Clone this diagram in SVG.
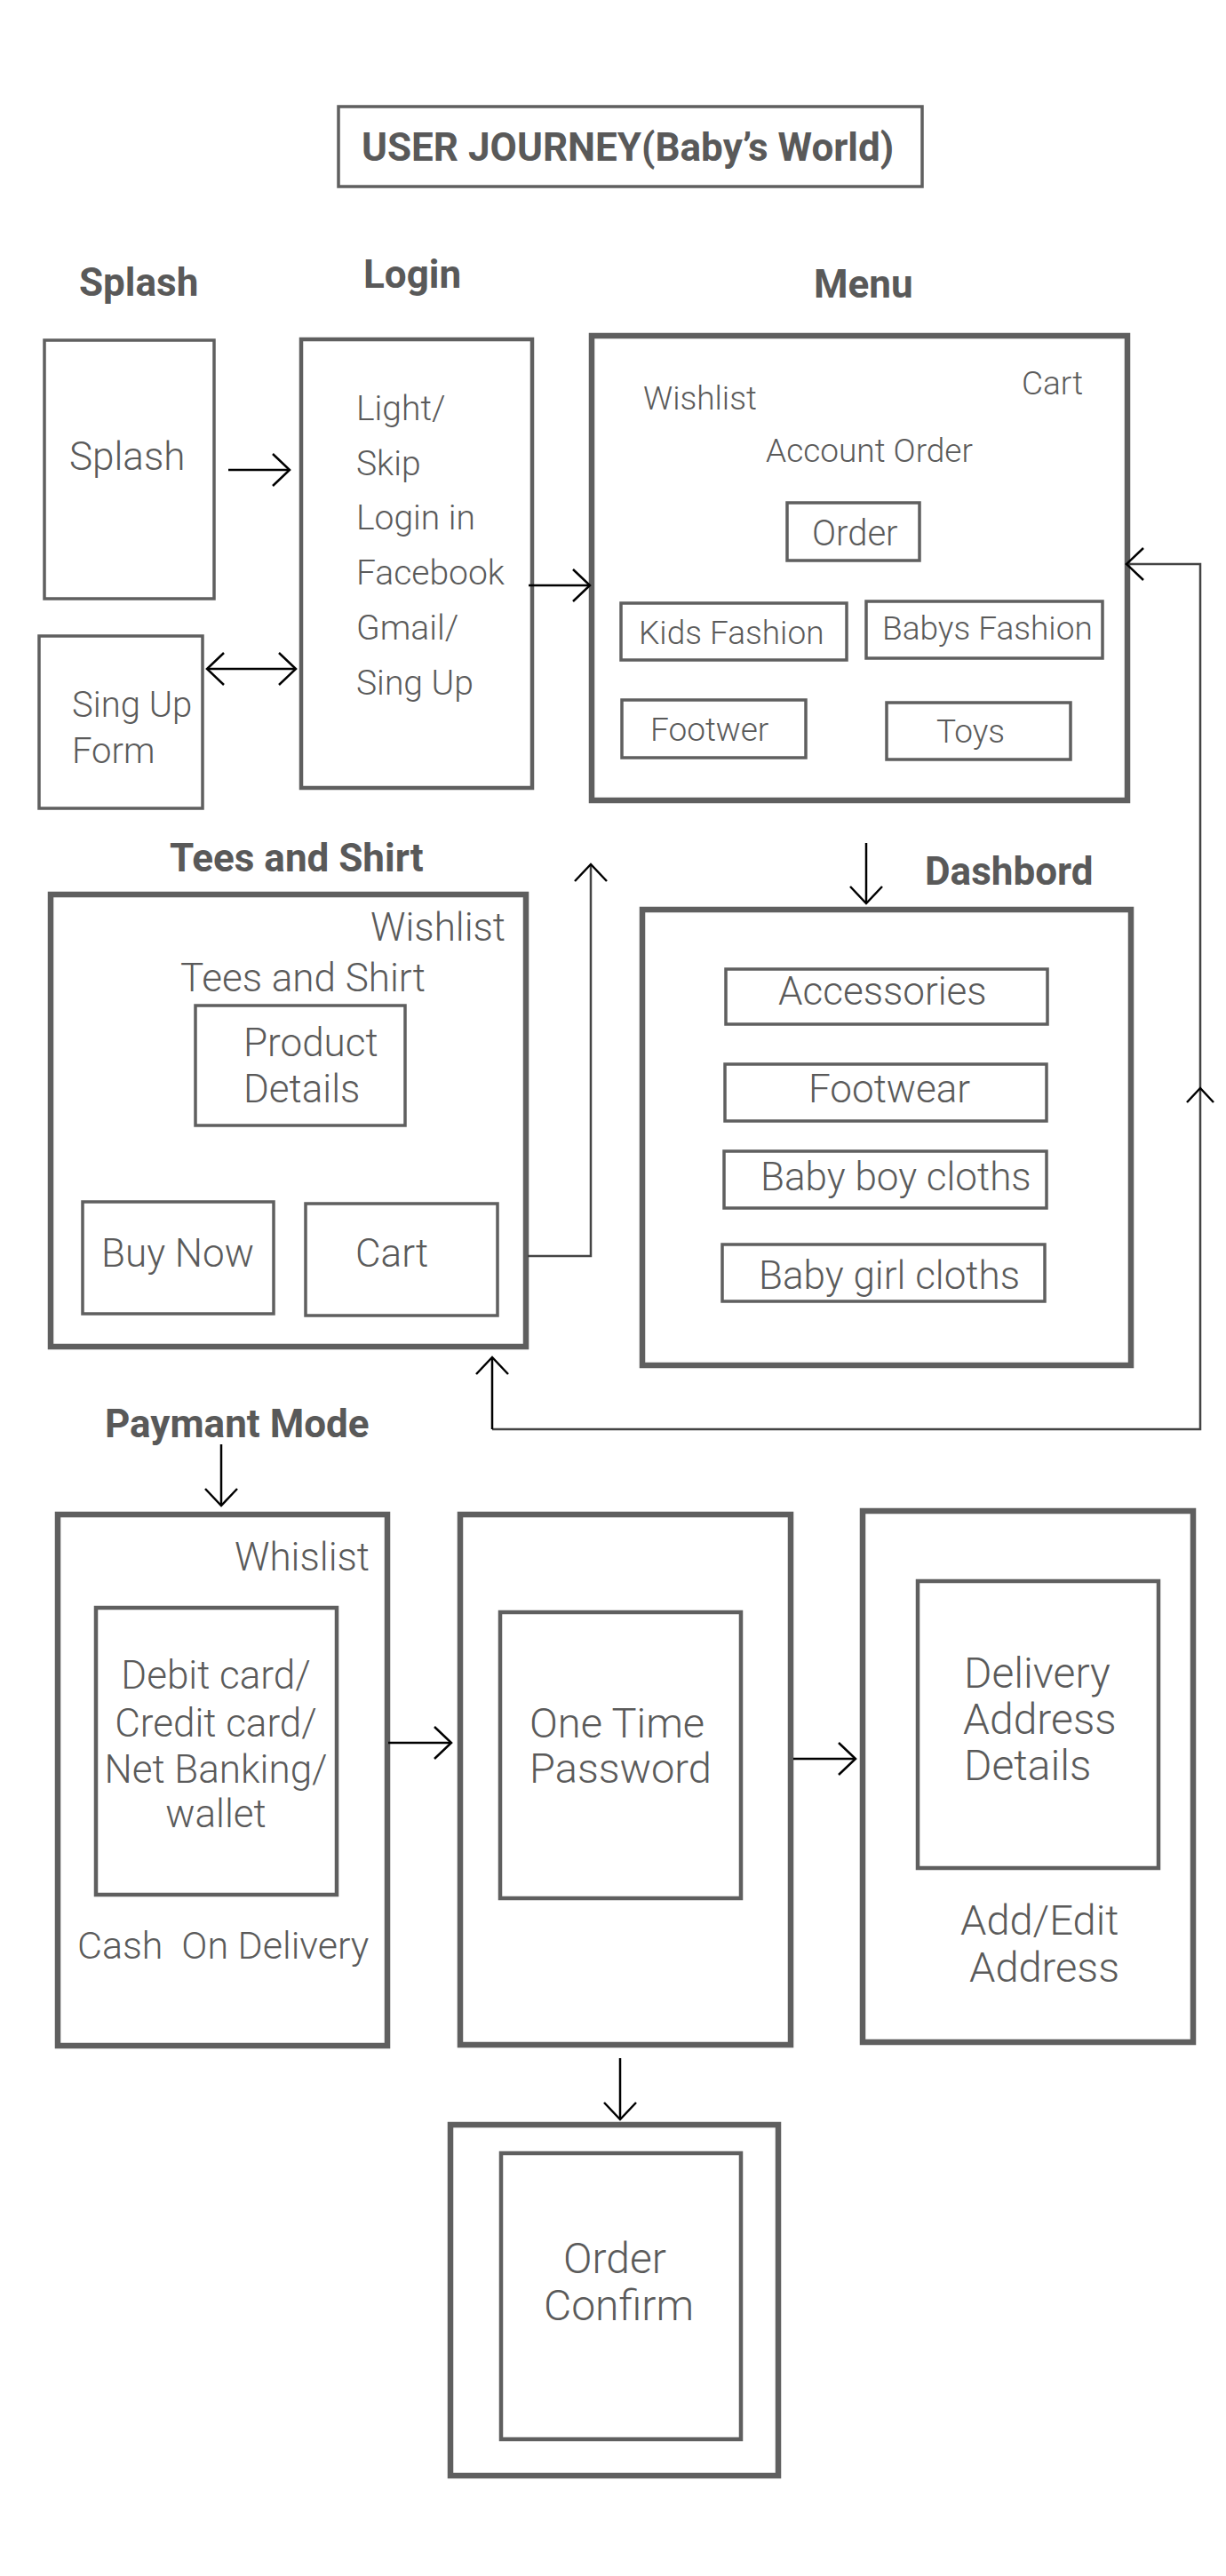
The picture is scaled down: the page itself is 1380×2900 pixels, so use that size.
<svg xmlns="http://www.w3.org/2000/svg" width="1380" height="2900" viewBox="0 0 1380 2900">
<style>
.bg{fill:#ffffff}
.box{fill:none;stroke:#5f5f5f;stroke-linejoin:miter}
.b3{stroke-width:3.5}
.b4{stroke-width:4.5}
.b6{stroke-width:6.5}
.h{font-family:Roboto,"Liberation Sans",sans-serif;font-weight:700;font-size:44px;fill:#595959}
.t{font-family:Roboto,"Liberation Sans",sans-serif;font-weight:300;fill:#5a5a5a}
.s37{font-size:37px}
.s39{font-size:39px}
.s40{font-size:40px}
.s43{font-size:43px}
.s44{font-size:44px}
.s47{font-size:47px}
.s48{font-size:48px}
.c{fill:none;stroke:#000;stroke-width:2.5}
</style>
<defs>
<marker id="arr" viewBox="0 0 22 40" refX="20" refY="20" markerWidth="22" markerHeight="40" markerUnits="userSpaceOnUse" orient="auto-start-reverse">
<path d="M1,2 L20,20 L1,38" fill="none" stroke="#000" stroke-width="2.5"/>
</marker>
</defs>
<rect class="bg" x="0" y="0" width="1380" height="2900"/>

<g id="title">
<rect class="box b3" x="381" y="120" width="657" height="90"/>
<text class="h" x="407" y="181">USER JOURNEY(Baby’s World)</text>
</g>

<g id="splash">
<text class="h" x="89" y="333">Splash</text>
<rect class="box b3" x="50" y="383" width="191" height="291"/>
<text class="t s44" x="78" y="529">Splash</text>
</g>

<g id="signup">
<rect class="box b3" x="44" y="716" width="184" height="194"/>
<text class="t s40" x="81" y="807">Sing Up</text>
<text class="t s40" x="81" y="859">Form</text>
</g>

<g id="login">
<text class="h" x="409" y="324">Login</text>
<rect class="box b4" x="339" y="382" width="260" height="505"/>
<text class="t s39" x="401" y="473">Light/</text>
<text class="t s39" x="401" y="535">Skip</text>
<text class="t s39" x="401" y="596">Login in</text>
<text class="t s39" x="401" y="658">Facebook</text>
<text class="t s39" x="401" y="720">Gmail/</text>
<text class="t s39" x="401" y="782">Sing Up</text>
</g>

<g id="menu">
<text class="h" x="916" y="335">Menu</text>
<rect class="box b6" x="666" y="378" width="603" height="523"/>
<text class="t s37" x="724" y="461">Wishlist</text>
<text class="t s37" x="1150" y="444">Cart</text>
<text class="t s37" x="862" y="520">Account Order</text>
<rect class="box b3" x="886" y="566" width="149" height="65"/>
<text class="t s40" x="914" y="614">Order</text>
<rect class="box b3" x="699" y="679" width="254" height="64"/>
<text class="t s37" x="719" y="725">Kids Fashion</text>
<rect class="box b3" x="975" y="677" width="266" height="64"/>
<text class="t s37" x="993" y="720">Babys Fashion</text>
<rect class="box b3" x="700" y="788" width="207" height="65"/>
<text class="t s37" x="732" y="834">Footwer</text>
<rect class="box b3" x="998" y="791" width="207" height="64"/>
<text class="t s37" x="1054" y="836">Toys</text>
</g>

<g id="tees">
<text class="h" x="191" y="981">Tees and Shirt</text>
<rect class="box b6" x="57" y="1007" width="535" height="509"/>
<text class="t s44" x="417" y="1059">Wishlist</text>
<text class="t s44" x="203" y="1116">Tees and Shirt</text>
<rect class="box b3" x="220" y="1132" width="236" height="135"/>
<text class="t s44" x="274" y="1189">Product</text>
<text class="t s44" x="274" y="1241">Details</text>
<rect class="box b3" x="93" y="1353" width="215" height="126"/>
<text class="t s44" x="114" y="1426">Buy Now</text>
<rect class="box b3" x="344" y="1355" width="216" height="126"/>
<text class="t s44" x="400" y="1426">Cart</text>
</g>

<g id="dashboard">
<text class="h" x="1041" y="996">Dashbord</text>
<rect class="box b6" x="723" y="1024" width="550" height="513"/>
<rect class="box b3" x="817" y="1091" width="362" height="62"/>
<text class="t s44" x="876" y="1131">Accessories</text>
<rect class="box b3" x="816" y="1198" width="362" height="64"/>
<text class="t s44" x="910" y="1241">Footwear</text>
<rect class="box b3" x="815" y="1296" width="363" height="64"/>
<text class="t s44" x="856" y="1340">Baby boy cloths</text>
<rect class="box b3" x="813" y="1401" width="363" height="64"/>
<text class="t s44" x="854" y="1451">Baby girl cloths</text>
</g>

<g id="payment">
<text class="h" x="118" y="1618">Paymant Mode</text>
<rect class="box b6" x="65" y="1705" width="371" height="598"/>
<text class="t s44" x="264" y="1768">Whislist</text>
<rect class="box b4" x="108" y="1810" width="271" height="323"/>
<text class="t s44" x="243" y="1901" text-anchor="middle">Debit card/</text>
<text class="t s44" x="243" y="1955" text-anchor="middle">Credit card/</text>
<text class="t s44" x="243" y="2007" text-anchor="middle">Net Banking/</text>
<text class="t s44" x="243" y="2057" text-anchor="middle">wallet</text>
<text class="t s43" x="87" y="2205" xml:space="preserve">Cash  On Delivery</text>
</g>

<g id="otp">
<rect class="box b6" x="518" y="1705" width="372" height="597"/>
<rect class="box b4" x="563" y="1815" width="271" height="322"/>
<text class="t s47" x="596" y="1956">One Time</text>
<text class="t s47" x="596" y="2007">Password</text>
</g>

<g id="delivery">
<rect class="box b6" x="971" y="1701" width="372" height="598"/>
<rect class="box b4" x="1033" y="1780" width="271" height="323"/>
<text class="t s48" x="1085" y="1900">Delivery</text>
<text class="t s48" x="1084" y="1952">Address</text>
<text class="t s48" x="1085" y="2004">Details</text>
<text class="t s47" x="1081" y="2178">Add/Edit</text>
<text class="t s47" x="1091" y="2231">Address</text>
</g>

<g id="confirm">
<rect class="box b6" x="507" y="2392" width="369" height="395"/>
<rect class="box b4" x="564" y="2424" width="270" height="322"/>
<text class="t s48" x="634" y="2559">Order</text>
<text class="t s48" x="612" y="2612">Confirm</text>
</g>

<g id="connectors">
<path class="c" d="M257,529 H326" marker-end="url(#arr)"/>
<path class="c" d="M233,753 H333" marker-start="url(#arr)" marker-end="url(#arr)"/>
<path class="c" d="M595,659 H664" marker-end="url(#arr)"/>
<path class="c" d="M975,949 V1017" marker-end="url(#arr)"/>
<path class="c" d="M594,1414 H665 V973" marker-end="url(#arr)" style="stroke:#444"/>
<path class="c" d="M554,1609 H1351 V635 H1268" marker-end="url(#arr)" style="stroke:#444"/>
<path class="c" d="M554,1609 V1528" marker-end="url(#arr)"/>
<path class="c" d="M1336,1241 L1351,1225 L1366,1241"/>
<path class="c" d="M249,1626 V1695" marker-end="url(#arr)"/>
<path class="c" d="M437,1962 H508" marker-end="url(#arr)"/>
<path class="c" d="M893,1980 H963" marker-end="url(#arr)"/>
<path class="c" d="M698,2317 V2386" marker-end="url(#arr)"/>
</g>
</svg>
